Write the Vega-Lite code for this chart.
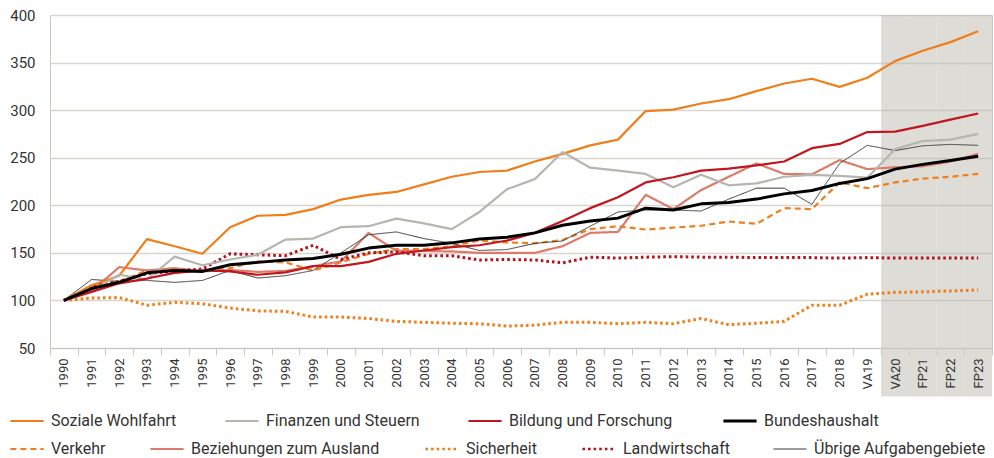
{
"$schema": "https://vega.github.io/schema/vega-lite/v6.json",
"width": 942, "height": 333,
"autosize": {"type": "none"},
"padding": {"left": 50, "top": 15, "right": 2, "bottom": 110},
"background": "white",
"config": {
 "font": "Roboto",
 "view": {"stroke": "#c8c8c0", "strokeWidth": 1},
 "legend": {"labelFont": "Roboto", "labelFontSize": 16, "labelColor": "#333333", "labelLimit": 0, "symbolType": "stroke", "symbolSize": 1100, "symbolStrokeWidth": 2, "labelOffset": 16, "columnPadding": 44, "padding": 0}
},
"datasets": {
 "schatten": [{"jahr": "VA20"}, {"jahr": "FP21"}, {"jahr": "FP22"}, {"jahr": "FP23"}],
 "reihen": [
{"jahr":"1990","bereich":"Soziale Wohlfahrt","wert":100},{"jahr":"1991","bereich":"Soziale Wohlfahrt","wert":116},{"jahr":"1992","bereich":"Soziale Wohlfahrt","wert":126},{"jahr":"1993","bereich":"Soziale Wohlfahrt","wert":164.5},{"jahr":"1994","bereich":"Soziale Wohlfahrt","wert":157},{"jahr":"1995","bereich":"Soziale Wohlfahrt","wert":149},{"jahr":"1996","bereich":"Soziale Wohlfahrt","wert":177},{"jahr":"1997","bereich":"Soziale Wohlfahrt","wert":189},{"jahr":"1998","bereich":"Soziale Wohlfahrt","wert":190},{"jahr":"1999","bereich":"Soziale Wohlfahrt","wert":196},{"jahr":"2000","bereich":"Soziale Wohlfahrt","wert":206},{"jahr":"2001","bereich":"Soziale Wohlfahrt","wert":211},{"jahr":"2002","bereich":"Soziale Wohlfahrt","wert":214},{"jahr":"2003","bereich":"Soziale Wohlfahrt","wert":222},{"jahr":"2004","bereich":"Soziale Wohlfahrt","wert":230},{"jahr":"2005","bereich":"Soziale Wohlfahrt","wert":235},{"jahr":"2006","bereich":"Soziale Wohlfahrt","wert":236.5},{"jahr":"2007","bereich":"Soziale Wohlfahrt","wert":246},{"jahr":"2008","bereich":"Soziale Wohlfahrt","wert":254},{"jahr":"2009","bereich":"Soziale Wohlfahrt","wert":263},{"jahr":"2010","bereich":"Soziale Wohlfahrt","wert":269},{"jahr":"2011","bereich":"Soziale Wohlfahrt","wert":299},{"jahr":"2012","bereich":"Soziale Wohlfahrt","wert":300.5},{"jahr":"2013","bereich":"Soziale Wohlfahrt","wert":307},{"jahr":"2014","bereich":"Soziale Wohlfahrt","wert":311.5},{"jahr":"2015","bereich":"Soziale Wohlfahrt","wert":320},{"jahr":"2016","bereich":"Soziale Wohlfahrt","wert":328},{"jahr":"2017","bereich":"Soziale Wohlfahrt","wert":333},{"jahr":"2018","bereich":"Soziale Wohlfahrt","wert":324.5},{"jahr":"VA19","bereich":"Soziale Wohlfahrt","wert":334},{"jahr":"VA20","bereich":"Soziale Wohlfahrt","wert":351.5},{"jahr":"FP21","bereich":"Soziale Wohlfahrt","wert":362.5},{"jahr":"FP22","bereich":"Soziale Wohlfahrt","wert":371.5},{"jahr":"FP23","bereich":"Soziale Wohlfahrt","wert":383},
{"jahr":"1990","bereich":"Finanzen und Steuern","wert":100},{"jahr":"1991","bereich":"Finanzen und Steuern","wert":110},{"jahr":"1992","bereich":"Finanzen und Steuern","wert":127},{"jahr":"1993","bereich":"Finanzen und Steuern","wert":122},{"jahr":"1994","bereich":"Finanzen und Steuern","wert":146},{"jahr":"1995","bereich":"Finanzen und Steuern","wert":137},{"jahr":"1996","bereich":"Finanzen und Steuern","wert":143},{"jahr":"1997","bereich":"Finanzen und Steuern","wert":148},{"jahr":"1998","bereich":"Finanzen und Steuern","wert":164},{"jahr":"1999","bereich":"Finanzen und Steuern","wert":165},{"jahr":"2000","bereich":"Finanzen und Steuern","wert":177},{"jahr":"2001","bereich":"Finanzen und Steuern","wert":178},{"jahr":"2002","bereich":"Finanzen und Steuern","wert":186},{"jahr":"2003","bereich":"Finanzen und Steuern","wert":181},{"jahr":"2004","bereich":"Finanzen und Steuern","wert":175},{"jahr":"2005","bereich":"Finanzen und Steuern","wert":193},{"jahr":"2006","bereich":"Finanzen und Steuern","wert":217},{"jahr":"2007","bereich":"Finanzen und Steuern","wert":227.5},{"jahr":"2008","bereich":"Finanzen und Steuern","wert":256},{"jahr":"2009","bereich":"Finanzen und Steuern","wert":239.5},{"jahr":"2010","bereich":"Finanzen und Steuern","wert":236.5},{"jahr":"2011","bereich":"Finanzen und Steuern","wert":233},{"jahr":"2012","bereich":"Finanzen und Steuern","wert":219},{"jahr":"2013","bereich":"Finanzen und Steuern","wert":232},{"jahr":"2014","bereich":"Finanzen und Steuern","wert":221},{"jahr":"2015","bereich":"Finanzen und Steuern","wert":223},{"jahr":"2016","bereich":"Finanzen und Steuern","wert":230},{"jahr":"2017","bereich":"Finanzen und Steuern","wert":232},{"jahr":"2018","bereich":"Finanzen und Steuern","wert":231},{"jahr":"VA19","bereich":"Finanzen und Steuern","wert":229},{"jahr":"VA20","bereich":"Finanzen und Steuern","wert":259},{"jahr":"FP21","bereich":"Finanzen und Steuern","wert":267.5},{"jahr":"FP22","bereich":"Finanzen und Steuern","wert":269},{"jahr":"FP23","bereich":"Finanzen und Steuern","wert":275},
{"jahr":"1990","bereich":"Bildung und Forschung","wert":100},{"jahr":"1991","bereich":"Bildung und Forschung","wert":109},{"jahr":"1992","bereich":"Bildung und Forschung","wert":118},{"jahr":"1993","bereich":"Bildung und Forschung","wert":123},{"jahr":"1994","bereich":"Bildung und Forschung","wert":129},{"jahr":"1995","bereich":"Bildung und Forschung","wert":131.5},{"jahr":"1996","bereich":"Bildung und Forschung","wert":130.5},{"jahr":"1997","bereich":"Bildung und Forschung","wert":127},{"jahr":"1998","bereich":"Bildung und Forschung","wert":129.5},{"jahr":"1999","bereich":"Bildung und Forschung","wert":136},{"jahr":"2000","bereich":"Bildung und Forschung","wert":136},{"jahr":"2001","bereich":"Bildung und Forschung","wert":140.5},{"jahr":"2002","bereich":"Bildung und Forschung","wert":149},{"jahr":"2003","bereich":"Bildung und Forschung","wert":152.5},{"jahr":"2004","bereich":"Bildung und Forschung","wert":156},{"jahr":"2005","bereich":"Bildung und Forschung","wert":158},{"jahr":"2006","bereich":"Bildung und Forschung","wert":163},{"jahr":"2007","bereich":"Bildung und Forschung","wert":171},{"jahr":"2008","bereich":"Bildung und Forschung","wert":183.5},{"jahr":"2009","bereich":"Bildung und Forschung","wert":197},{"jahr":"2010","bereich":"Bildung und Forschung","wert":208.5},{"jahr":"2011","bereich":"Bildung und Forschung","wert":224},{"jahr":"2012","bereich":"Bildung und Forschung","wert":229.5},{"jahr":"2013","bereich":"Bildung und Forschung","wert":236.5},{"jahr":"2014","bereich":"Bildung und Forschung","wert":238.5},{"jahr":"2015","bereich":"Bildung und Forschung","wert":242},{"jahr":"2016","bereich":"Bildung und Forschung","wert":246},{"jahr":"2017","bereich":"Bildung und Forschung","wert":260},{"jahr":"2018","bereich":"Bildung und Forschung","wert":264.5},{"jahr":"VA19","bereich":"Bildung und Forschung","wert":277},{"jahr":"VA20","bereich":"Bildung und Forschung","wert":277.5},{"jahr":"FP21","bereich":"Bildung und Forschung","wert":283.5},{"jahr":"FP22","bereich":"Bildung und Forschung","wert":290},{"jahr":"FP23","bereich":"Bildung und Forschung","wert":296.5},
{"jahr":"1990","bereich":"Bundeshaushalt","wert":100},{"jahr":"1991","bereich":"Bundeshaushalt","wert":112.5},{"jahr":"1992","bereich":"Bundeshaushalt","wert":119},{"jahr":"1993","bereich":"Bundeshaushalt","wert":129},{"jahr":"1994","bereich":"Bundeshaushalt","wert":131.5},{"jahr":"1995","bereich":"Bundeshaushalt","wert":130.5},{"jahr":"1996","bereich":"Bundeshaushalt","wert":137.5},{"jahr":"1997","bereich":"Bundeshaushalt","wert":140},{"jahr":"1998","bereich":"Bundeshaushalt","wert":142.5},{"jahr":"1999","bereich":"Bundeshaushalt","wert":144},{"jahr":"2000","bereich":"Bundeshaushalt","wert":148.5},{"jahr":"2001","bereich":"Bundeshaushalt","wert":155},{"jahr":"2002","bereich":"Bundeshaushalt","wert":158},{"jahr":"2003","bereich":"Bundeshaushalt","wert":158},{"jahr":"2004","bereich":"Bundeshaushalt","wert":160.5},{"jahr":"2005","bereich":"Bundeshaushalt","wert":164.5},{"jahr":"2006","bereich":"Bundeshaushalt","wert":166.5},{"jahr":"2007","bereich":"Bundeshaushalt","wert":171},{"jahr":"2008","bereich":"Bundeshaushalt","wert":179},{"jahr":"2009","bereich":"Bundeshaushalt","wert":183.5},{"jahr":"2010","bereich":"Bundeshaushalt","wert":186.5},{"jahr":"2011","bereich":"Bundeshaushalt","wert":197},{"jahr":"2012","bereich":"Bundeshaushalt","wert":195},{"jahr":"2013","bereich":"Bundeshaushalt","wert":201.5},{"jahr":"2014","bereich":"Bundeshaushalt","wert":203},{"jahr":"2015","bereich":"Bundeshaushalt","wert":206.5},{"jahr":"2016","bereich":"Bundeshaushalt","wert":212},{"jahr":"2017","bereich":"Bundeshaushalt","wert":215.5},{"jahr":"2018","bereich":"Bundeshaushalt","wert":223},{"jahr":"VA19","bereich":"Bundeshaushalt","wert":228},{"jahr":"VA20","bereich":"Bundeshaushalt","wert":238},{"jahr":"FP21","bereich":"Bundeshaushalt","wert":243},{"jahr":"FP22","bereich":"Bundeshaushalt","wert":247},{"jahr":"FP23","bereich":"Bundeshaushalt","wert":251.5},
{"jahr":"1990","bereich":"Verkehr","wert":100},{"jahr":"1991","bereich":"Verkehr","wert":115},{"jahr":"1992","bereich":"Verkehr","wert":120},{"jahr":"1993","bereich":"Verkehr","wert":131.5},{"jahr":"1994","bereich":"Verkehr","wert":131.5},{"jahr":"1995","bereich":"Verkehr","wert":130.5},{"jahr":"1996","bereich":"Verkehr","wert":134},{"jahr":"1997","bereich":"Verkehr","wert":141},{"jahr":"1998","bereich":"Verkehr","wert":140},{"jahr":"1999","bereich":"Verkehr","wert":131.5},{"jahr":"2000","bereich":"Verkehr","wert":140},{"jahr":"2001","bereich":"Verkehr","wert":149},{"jahr":"2002","bereich":"Verkehr","wert":154},{"jahr":"2003","bereich":"Verkehr","wert":154},{"jahr":"2004","bereich":"Verkehr","wert":157},{"jahr":"2005","bereich":"Verkehr","wert":163},{"jahr":"2006","bereich":"Verkehr","wert":161},{"jahr":"2007","bereich":"Verkehr","wert":160},{"jahr":"2008","bereich":"Verkehr","wert":163.5},{"jahr":"2009","bereich":"Verkehr","wert":175},{"jahr":"2010","bereich":"Verkehr","wert":178},{"jahr":"2011","bereich":"Verkehr","wert":174.5},{"jahr":"2012","bereich":"Verkehr","wert":176.5},{"jahr":"2013","bereich":"Verkehr","wert":178.5},{"jahr":"2014","bereich":"Verkehr","wert":183},{"jahr":"2015","bereich":"Verkehr","wert":180.5},{"jahr":"2016","bereich":"Verkehr","wert":197},{"jahr":"2017","bereich":"Verkehr","wert":196},{"jahr":"2018","bereich":"Verkehr","wert":224},{"jahr":"VA19","bereich":"Verkehr","wert":218},{"jahr":"VA20","bereich":"Verkehr","wert":224},{"jahr":"FP21","bereich":"Verkehr","wert":228},{"jahr":"FP22","bereich":"Verkehr","wert":230},{"jahr":"FP23","bereich":"Verkehr","wert":233},
{"jahr":"1990","bereich":"Beziehungen zum Ausland","wert":100},{"jahr":"1991","bereich":"Beziehungen zum Ausland","wert":110},{"jahr":"1992","bereich":"Beziehungen zum Ausland","wert":135},{"jahr":"1993","bereich":"Beziehungen zum Ausland","wert":131.5},{"jahr":"1994","bereich":"Beziehungen zum Ausland","wert":134},{"jahr":"1995","bereich":"Beziehungen zum Ausland","wert":130.5},{"jahr":"1996","bereich":"Beziehungen zum Ausland","wert":132},{"jahr":"1997","bereich":"Beziehungen zum Ausland","wert":130},{"jahr":"1998","bereich":"Beziehungen zum Ausland","wert":131},{"jahr":"1999","bereich":"Beziehungen zum Ausland","wert":136},{"jahr":"2000","bereich":"Beziehungen zum Ausland","wert":141},{"jahr":"2001","bereich":"Beziehungen zum Ausland","wert":171},{"jahr":"2002","bereich":"Beziehungen zum Ausland","wert":152},{"jahr":"2003","bereich":"Beziehungen zum Ausland","wert":152},{"jahr":"2004","bereich":"Beziehungen zum Ausland","wert":151.5},{"jahr":"2005","bereich":"Beziehungen zum Ausland","wert":150},{"jahr":"2006","bereich":"Beziehungen zum Ausland","wert":150},{"jahr":"2007","bereich":"Beziehungen zum Ausland","wert":150},{"jahr":"2008","bereich":"Beziehungen zum Ausland","wert":157},{"jahr":"2009","bereich":"Beziehungen zum Ausland","wert":171},{"jahr":"2010","bereich":"Beziehungen zum Ausland","wert":172},{"jahr":"2011","bereich":"Beziehungen zum Ausland","wert":211},{"jahr":"2012","bereich":"Beziehungen zum Ausland","wert":196},{"jahr":"2013","bereich":"Beziehungen zum Ausland","wert":216},{"jahr":"2014","bereich":"Beziehungen zum Ausland","wert":230},{"jahr":"2015","bereich":"Beziehungen zum Ausland","wert":244},{"jahr":"2016","bereich":"Beziehungen zum Ausland","wert":233},{"jahr":"2017","bereich":"Beziehungen zum Ausland","wert":232.5},{"jahr":"2018","bereich":"Beziehungen zum Ausland","wert":247.5},{"jahr":"VA19","bereich":"Beziehungen zum Ausland","wert":238},{"jahr":"VA20","bereich":"Beziehungen zum Ausland","wert":240},{"jahr":"FP21","bereich":"Beziehungen zum Ausland","wert":241},{"jahr":"FP22","bereich":"Beziehungen zum Ausland","wert":246},{"jahr":"FP23","bereich":"Beziehungen zum Ausland","wert":254},
{"jahr":"1990","bereich":"Sicherheit","wert":100},{"jahr":"1991","bereich":"Sicherheit","wert":102.5},{"jahr":"1992","bereich":"Sicherheit","wert":103},{"jahr":"1993","bereich":"Sicherheit","wert":95},{"jahr":"1994","bereich":"Sicherheit","wert":98},{"jahr":"1995","bereich":"Sicherheit","wert":96.5},{"jahr":"1996","bereich":"Sicherheit","wert":92},{"jahr":"1997","bereich":"Sicherheit","wert":89},{"jahr":"1998","bereich":"Sicherheit","wert":88.5},{"jahr":"1999","bereich":"Sicherheit","wert":82.5},{"jahr":"2000","bereich":"Sicherheit","wert":82.5},{"jahr":"2001","bereich":"Sicherheit","wert":81},{"jahr":"2002","bereich":"Sicherheit","wert":78},{"jahr":"2003","bereich":"Sicherheit","wert":77},{"jahr":"2004","bereich":"Sicherheit","wert":76},{"jahr":"2005","bereich":"Sicherheit","wert":75.5},{"jahr":"2006","bereich":"Sicherheit","wert":73},{"jahr":"2007","bereich":"Sicherheit","wert":74},{"jahr":"2008","bereich":"Sicherheit","wert":77},{"jahr":"2009","bereich":"Sicherheit","wert":77},{"jahr":"2010","bereich":"Sicherheit","wert":75.5},{"jahr":"2011","bereich":"Sicherheit","wert":77},{"jahr":"2012","bereich":"Sicherheit","wert":75.5},{"jahr":"2013","bereich":"Sicherheit","wert":81},{"jahr":"2014","bereich":"Sicherheit","wert":74.5},{"jahr":"2015","bereich":"Sicherheit","wert":76},{"jahr":"2016","bereich":"Sicherheit","wert":78},{"jahr":"2017","bereich":"Sicherheit","wert":95},{"jahr":"2018","bereich":"Sicherheit","wert":95},{"jahr":"VA19","bereich":"Sicherheit","wert":106.5},{"jahr":"VA20","bereich":"Sicherheit","wert":108.5},{"jahr":"FP21","bereich":"Sicherheit","wert":109},{"jahr":"FP22","bereich":"Sicherheit","wert":110},{"jahr":"FP23","bereich":"Sicherheit","wert":111},
{"jahr":"1990","bereich":"Landwirtschaft","wert":100},{"jahr":"1991","bereich":"Landwirtschaft","wert":115},{"jahr":"1992","bereich":"Landwirtschaft","wert":120},{"jahr":"1993","bereich":"Landwirtschaft","wert":128},{"jahr":"1994","bereich":"Landwirtschaft","wert":131},{"jahr":"1995","bereich":"Landwirtschaft","wert":133},{"jahr":"1996","bereich":"Landwirtschaft","wert":149},{"jahr":"1997","bereich":"Landwirtschaft","wert":148},{"jahr":"1998","bereich":"Landwirtschaft","wert":147},{"jahr":"1999","bereich":"Landwirtschaft","wert":158},{"jahr":"2000","bereich":"Landwirtschaft","wert":143},{"jahr":"2001","bereich":"Landwirtschaft","wert":150},{"jahr":"2002","bereich":"Landwirtschaft","wert":151},{"jahr":"2003","bereich":"Landwirtschaft","wert":147},{"jahr":"2004","bereich":"Landwirtschaft","wert":147},{"jahr":"2005","bereich":"Landwirtschaft","wert":142.5},{"jahr":"2006","bereich":"Landwirtschaft","wert":143},{"jahr":"2007","bereich":"Landwirtschaft","wert":142.5},{"jahr":"2008","bereich":"Landwirtschaft","wert":139.5},{"jahr":"2009","bereich":"Landwirtschaft","wert":145.5},{"jahr":"2010","bereich":"Landwirtschaft","wert":144.5},{"jahr":"2011","bereich":"Landwirtschaft","wert":145.5},{"jahr":"2012","bereich":"Landwirtschaft","wert":146},{"jahr":"2013","bereich":"Landwirtschaft","wert":145.5},{"jahr":"2014","bereich":"Landwirtschaft","wert":145.5},{"jahr":"2015","bereich":"Landwirtschaft","wert":145},{"jahr":"2016","bereich":"Landwirtschaft","wert":145},{"jahr":"2017","bereich":"Landwirtschaft","wert":145},{"jahr":"2018","bereich":"Landwirtschaft","wert":144.5},{"jahr":"VA19","bereich":"Landwirtschaft","wert":145},{"jahr":"VA20","bereich":"Landwirtschaft","wert":144.5},{"jahr":"FP21","bereich":"Landwirtschaft","wert":144.5},{"jahr":"FP22","bereich":"Landwirtschaft","wert":144.5},{"jahr":"FP23","bereich":"Landwirtschaft","wert":144.5},
{"jahr":"1990","bereich":"Übrige Aufgabengebiete","wert":100},{"jahr":"1991","bereich":"Übrige Aufgabengebiete","wert":122},{"jahr":"1992","bereich":"Übrige Aufgabengebiete","wert":120},{"jahr":"1993","bereich":"Übrige Aufgabengebiete","wert":121},{"jahr":"1994","bereich":"Übrige Aufgabengebiete","wert":119},{"jahr":"1995","bereich":"Übrige Aufgabengebiete","wert":121},{"jahr":"1996","bereich":"Übrige Aufgabengebiete","wert":131.5},{"jahr":"1997","bereich":"Übrige Aufgabengebiete","wert":123.5},{"jahr":"1998","bereich":"Übrige Aufgabengebiete","wert":126},{"jahr":"1999","bereich":"Übrige Aufgabengebiete","wert":131.5},{"jahr":"2000","bereich":"Übrige Aufgabengebiete","wert":150},{"jahr":"2001","bereich":"Übrige Aufgabengebiete","wert":169},{"jahr":"2002","bereich":"Übrige Aufgabengebiete","wert":172},{"jahr":"2003","bereich":"Übrige Aufgabengebiete","wert":165},{"jahr":"2004","bereich":"Übrige Aufgabengebiete","wert":160},{"jahr":"2005","bereich":"Übrige Aufgabengebiete","wert":152.5},{"jahr":"2006","bereich":"Übrige Aufgabengebiete","wert":153.5},{"jahr":"2007","bereich":"Übrige Aufgabengebiete","wert":160},{"jahr":"2008","bereich":"Übrige Aufgabengebiete","wert":162.5},{"jahr":"2009","bereich":"Übrige Aufgabengebiete","wert":178},{"jahr":"2010","bereich":"Übrige Aufgabengebiete","wert":193},{"jahr":"2011","bereich":"Übrige Aufgabengebiete","wert":195},{"jahr":"2012","bereich":"Übrige Aufgabengebiete","wert":195},{"jahr":"2013","bereich":"Übrige Aufgabengebiete","wert":194},{"jahr":"2014","bereich":"Übrige Aufgabengebiete","wert":206.5},{"jahr":"2015","bereich":"Übrige Aufgabengebiete","wert":218},{"jahr":"2016","bereich":"Übrige Aufgabengebiete","wert":218},{"jahr":"2017","bereich":"Übrige Aufgabengebiete","wert":201},{"jahr":"2018","bereich":"Übrige Aufgabengebiete","wert":244},{"jahr":"VA19","bereich":"Übrige Aufgabengebiete","wert":263},{"jahr":"VA20","bereich":"Übrige Aufgabengebiete","wert":257.5},{"jahr":"FP21","bereich":"Übrige Aufgabengebiete","wert":262.5},{"jahr":"FP22","bereich":"Übrige Aufgabengebiete","wert":264},{"jahr":"FP23","bereich":"Übrige Aufgabengebiete","wert":263}
 ]
},
"encoding": {
 "x": {"field": "jahr", "type": "ordinal", "bandPosition": 0.5,
  "scale": {"type": "band", "paddingInner": 0, "paddingOuter": 0, "domain": ["1990","1991","1992","1993","1994","1995","1996","1997","1998","1999","2000","2001","2002","2003","2004","2005","2006","2007","2008","2009","2010","2011","2012","2013","2014","2015","2016","2017","2018","VA19","VA20","FP21","FP22","FP23"]},
  "axis": {"title": null, "labelAngle": -90, "labelAlign": "right", "labelBaseline": "middle", "tickBand": "extent", "tickSize": 7, "tickColor": "#c8c8c0", "domainColor": "#c8c8c0", "labelPadding": 3, "labelFontSize": 13, "labelColor": "#333333", "grid": false, "zindex": 1}}
},
"layer": [
 {"data": {"name": "schatten"},
  "mark": {"type": "rect", "color": "#bbb9af", "opacity": 0.5, "clip": false},
  "encoding": {
   "x": {"field": "jahr", "type": "ordinal", "bandPosition": 0},
   "y": {"datum": 400, "type": "quantitative", "scale": {"domain": [50, 400], "zero": false, "nice": false},
    "axis": {"title": null, "values": [50,100,150,200,250,300,350,400], "ticks": false, "domain": false, "grid": true, "gridColor": "#d6d6cf", "gridWidth": 1.5, "labelPadding": 15, "labelFontSize": 15, "labelColor": "#333333"}},
   "y2": {"datum": -1}}},
 {"data": {"name": "reihen"},
  "transform": [{"filter": {"field": "bereich", "oneOf": ["Verkehr","Beziehungen zum Ausland","Sicherheit","Landwirtschaft","Übrige Aufgabengebiete"]}}],
  "mark": {"type": "line", "strokeCap": "butt", "strokeJoin": "round"},
  "encoding": {
   "y": {"field": "wert", "type": "quantitative"},
   "color": {"field": "bereich", "type": "nominal",
    "scale": {"domain": ["Verkehr","Beziehungen zum Ausland","Sicherheit","Landwirtschaft","Übrige Aufgabengebiete"], "range": ["#f07e1b","#dc7b6a","#f07e1b","#b3121e","#3a3a3a"]},
    "legend": {"title": null, "orient": "none", "legendX": -31, "legendY": 426, "direction": "horizontal", "columns": 5, "columnPadding": 40,
     "encode": {"symbols": {"update": {"strokeWidth": {"signal": "datum.value === 'Übrige Aufgabengebiete' ? 1.2 : (datum.value === 'Sicherheit' || datum.value === 'Landwirtschaft' ? 2.6 : 2)"}}}}}},
   "strokeDash": {"field": "bereich", "type": "nominal",
    "scale": {"domain": ["Verkehr","Beziehungen zum Ausland","Sicherheit","Landwirtschaft","Übrige Aufgabengebiete"], "range": [[6,4],[1,0],[2.6,3],[2.6,3],[1,0]]},
    "legend": {"title": null, "orient": "none", "legendX": -31, "legendY": 426, "direction": "horizontal", "columns": 5, "columnPadding": 40,
     "encode": {"symbols": {"update": {"strokeWidth": {"signal": "datum.value === 'Übrige Aufgabengebiete' ? 1.2 : (datum.value === 'Sicherheit' || datum.value === 'Landwirtschaft' ? 2.6 : 2)"}}}}}},
   "strokeWidth": {"condition": [{"test": "datum.bereich === 'Übrige Aufgabengebiete'", "value": 1}, {"test": "datum.bereich === 'Sicherheit' || datum.bereich === 'Landwirtschaft'", "value": 3}], "value": 2.2}
  }},
 {"data": {"name": "reihen"},
  "transform": [{"filter": {"field": "bereich", "oneOf": ["Soziale Wohlfahrt","Finanzen und Steuern","Bildung und Forschung","Bundeshaushalt"]}}],
  "mark": {"type": "line", "strokeCap": "butt", "strokeJoin": "round"},
  "encoding": {
   "y": {"field": "wert", "type": "quantitative"},
   "color": {"field": "bereich", "type": "nominal",
    "scale": {"domain": ["Soziale Wohlfahrt","Finanzen und Steuern","Bildung und Forschung","Bundeshaushalt"], "range": ["#f07e1b","#b6b6ae","#c1161f","#000000"]},
    "legend": {"title": null, "orient": "none", "legendX": -31, "legendY": 398, "direction": "horizontal", "columns": 4,
     "encode": {"symbols": {"update": {"strokeWidth": {"signal": "datum.value === 'Bundeshaushalt' ? 2.8 : 2"}}}}}},
   "strokeWidth": {"condition": {"test": "datum.bereich === 'Bundeshaushalt'", "value": 3}, "value": 2.2}
  }}
],
"resolve": {"scale": {"color": "independent", "strokeDash": "independent"}, "legend": {"color": "independent", "strokeDash": "independent"}}
}
